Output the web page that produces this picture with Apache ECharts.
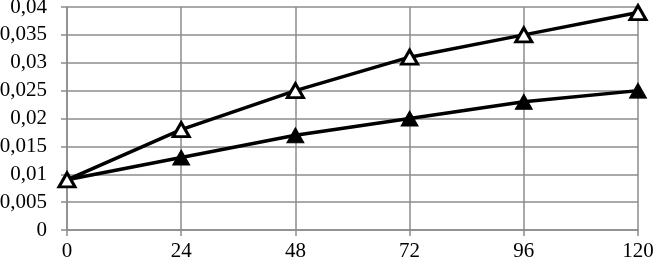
<!DOCTYPE html>
<html><head><meta charset="utf-8">
<script src="https://cdn.jsdelivr.net/npm/echarts@6/dist/echarts.min.js"></script>
<style>html,body{margin:0;padding:0;background:#fff}#c{width:654px;height:263px}</style>
</head><body><div id="c"></div>
<script>
const hours = [0, 24, 48, 72, 96, 120];
const upperSeries = [0.009, 0.018, 0.025, 0.031, 0.035, 0.039];
const lowerSeries = [0.009, 0.013, 0.017, 0.020, 0.023, 0.025];
const yTicks = [0, 0.005, 0.01, 0.015, 0.02, 0.025, 0.03, 0.035, 0.04];

const chart = echarts.init(document.getElementById('c'), null, {renderer: 'canvas'});
const font = 'Liberation Serif';
chart.setOption({
  animation: false,
  grid: {left: 67, right: 16, top: 7, bottom: 33, containLabel: false, outerBoundsMode: 'none'},
  xAxis: {
    type: 'value', min: 0, max: 120, interval: 24,
    axisLine: {show: true, lineStyle: {color: '#8c8c8c', width: 1.5}},
    axisTick: {show: true, length: 6, lineStyle: {color: '#8c8c8c', width: 1.5}},
    splitLine: {show: true, lineStyle: {color: '#8c8c8c', width: 1.5}},
    axisLabel: {fontFamily: font, fontSize: 21, color: '#000', margin: 11}
  },
  yAxis: {
    type: 'value', min: 0, max: 0.04, interval: 0.005,
    axisLine: {show: true, lineStyle: {color: '#8c8c8c', width: 1.5}},
    axisTick: {show: true, length: 6, lineStyle: {color: '#8c8c8c', width: 1.5}},
    splitLine: {show: true, lineStyle: {color: '#8c8c8c', width: 1.5}},
    axisLabel: {fontFamily: font, fontSize: 21, color: '#000', margin: 20,
      formatter: v => {
        const s = yTicks.find(t => Math.abs(t - v) < 1e-9);
        return String(+(s !== undefined ? s : v).toFixed(3)).replace('.', ',');
      }}
  },
  series: [
    {type: 'line', data: hours.map((h, i) => [h, lowerSeries[i]]),
     symbol: 'triangle', symbolSize: [17, 15],
     lineStyle: {color: '#000', width: 3.5},
     itemStyle: {color: '#000', borderColor: '#000', borderWidth: 1}, z: 3},
    {type: 'line', data: hours.map((h, i) => [h, upperSeries[i]]),
     symbol: 'triangle', symbolSize: [16, 14],
     lineStyle: {color: '#000', width: 3.5},
     itemStyle: {color: '#fff', borderColor: '#000', borderWidth: 3}, z: 4}
  ]
});
</script></body></html>
